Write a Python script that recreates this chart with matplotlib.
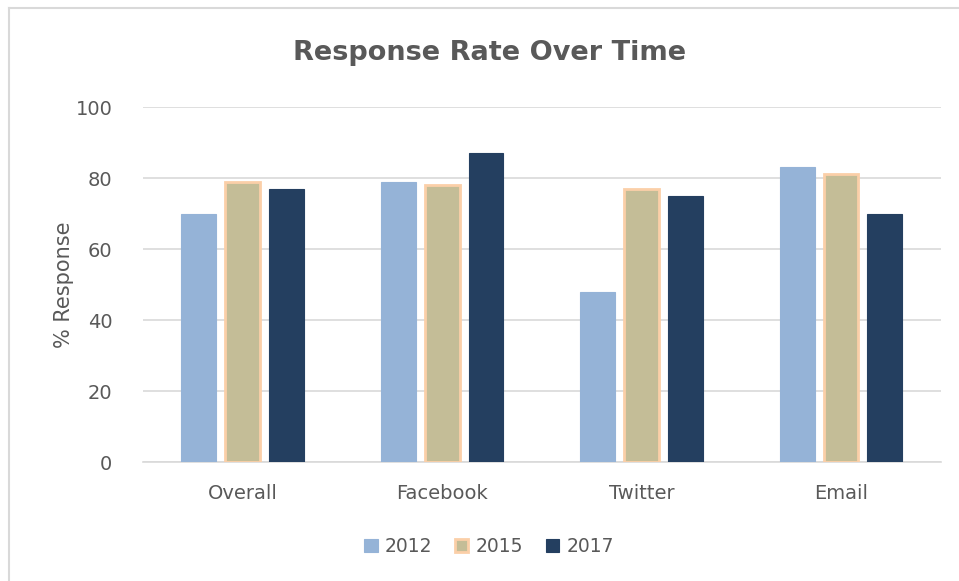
import matplotlib.pyplot as plt
import numpy as np
from matplotlib.lines import Line2D

categories = ['Overall', 'Facebook', 'Twitter', 'Email']
years = ['2012', '2015', '2017']
vals_2012 = [70, 79, 48, 83]
vals_2015 = [79, 78, 77, 81]
vals_2017 = [77, 87, 75, 70]

colors = ['#95B3D7', '#C4BD97', '#243F60']
edges = ['#95B3D7', '#FBCFA8', '#243F60']

fig = plt.figure(figsize=(9.59, 5.81), dpi=100)
ax = fig.add_axes([0.149, 0.2048, 0.832, 0.611])

x = np.arange(len(categories))
w = 0.175
step = 0.22
series = [vals_2012, vals_2015, vals_2017]
for i, vals in enumerate(series):
    lw = 2 if i == 1 else 0.8
    ax.bar(x + (i - 1) * step, vals, width=w, color=colors[i],
           edgecolor=edges[i], linewidth=lw, label=years[i], zorder=3)

ax.set_xlim(-0.5, 3.5)
ax.set_ylim(0, 100)
ax.set_yticks(range(0, 101, 20))
ax.set_xticks(x)
ax.set_xticklabels(categories)
ax.yaxis.grid(True, color='#D9D9D9', linewidth=1.2, zorder=0)
for s in ['top', 'right', 'left']:
    ax.spines[s].set_visible(False)
ax.spines['bottom'].set_color('#D9D9D9')
ax.spines['bottom'].set_linewidth(1.2)
ax.tick_params(axis='both', length=0, labelsize=14, labelcolor='#595959')
ax.tick_params(axis='y', pad=22)
ax.tick_params(axis='x', pad=16)
ax.set_ylabel('% Response', fontsize=15, color='#595959')
ax.yaxis.set_label_coords(-0.086, 0.5)

fig.text(0.511, 0.908, 'Response Rate Over Time', ha='center', va='center',
         fontsize=19.5, fontweight='bold', color='#595959')

ax.legend(loc='center', bbox_to_anchor=(0.51, 0.06), bbox_transform=fig.transFigure,
          ncol=3, frameon=False, fontsize=13.5, labelcolor='#595959',
          handlelength=0.7, handleheight=0.7, handletextpad=0.4, columnspacing=1.2)

# light frame around chart area
fig.add_artist(Line2D([0.009, 1.0], [0.986, 0.986], color='#D9D9D9', lw=1.5))
fig.add_artist(Line2D([0.009, 0.009], [0.0, 0.986], color='#D9D9D9', lw=1.5))

fig.savefig('out.png', dpi=100)
